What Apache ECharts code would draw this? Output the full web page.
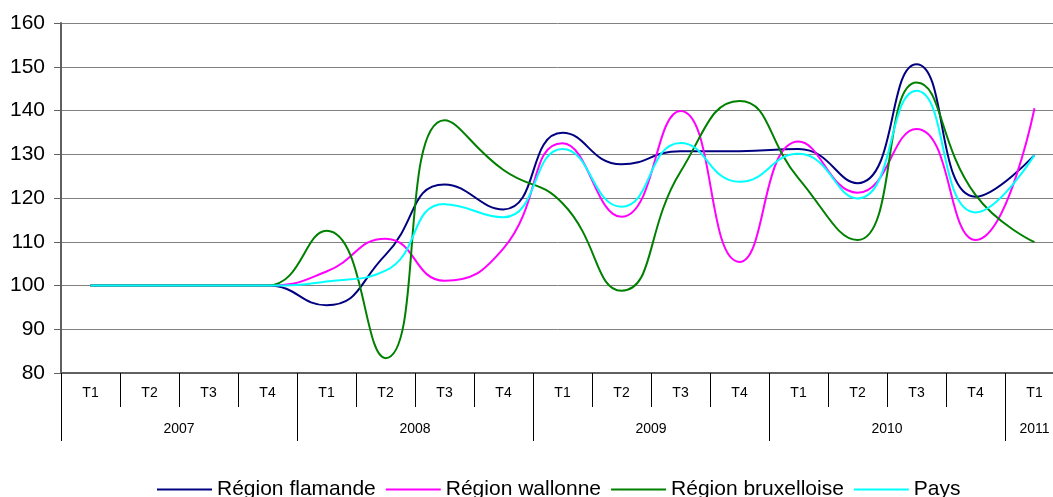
<!DOCTYPE html>
<html>
<head>
<meta charset="utf-8">
<title>Indices régionaux</title>
<script src="https://cdn.jsdelivr.net/npm/echarts@6/dist/echarts.min.js"></script>
<style>
  html, body { margin: 0; padding: 0; background: #fff; }
  #chart { width: 1053px; height: 497px; }
</style>
</head>
<body>
<div id="chart"></div>
<script>
// trimestres et années
const quarters = ['T1', 'T2', 'T3', 'T4', 'T1', 'T2', 'T3', 'T4', 'T1', 'T2', 'T3', 'T4', 'T1', 'T2', 'T3', 'T4', 'T1']
const years = ['2007', '2007', '2007', '2007', '2008', '2008', '2008', '2008', '2009', '2009', '2009', '2009', '2010', '2010', '2010', '2010', '2011']

// séries (indice 100 = T1 2007)
const flamande = [100, 100, 100, 100, 95.5, 107, 123.1, 117.4, 134.9, 127.7, 130.7, 130.7, 131.2, 123.4, 150.6, 120.3, 129.8]
const wallonne = [100, 100, 100, 100, 103.2, 110.7, 101.1, 108.5, 132.5, 115.7, 139.9, 105.4, 132.9, 121.2, 135.8, 110.4, 140.5]
const bruxelloise = [100, 100, 100, 100, 112.5, 83.4, 137.8, 126.4, 118.8, 98.8, 126, 142.2, 124.5, 110.4, 146.4, 120.7, 109.9]
const pays = [100, 100, 100, 100, 100.9, 103.4, 118.6, 115.6, 131.2, 118, 132.6, 123.7, 130.1, 119.9, 144.5, 116.7, 129.8]

const yTicks = { min: 80, max: 160, interval: 10 }

const myChart = echarts.init(document.getElementById('chart'))

const mkLine = (name, data, color) => {
  return {
    name: name,
    type: 'line',
    data: data,
    smooth: 0.5,
    symbol: 'none',
    lineStyle: { color: color, width: 2 },
    itemStyle: { color: color }
  }
}

const option = {
  animation: false,
  grid: { left: 61, top: 23, width: 1003, height: 350, outerBoundsMode: 'none' },
  legend: {
    left: 152,
    top: 474,
    icon: 'rect',
    itemWidth: 55,
    itemHeight: 2,
    itemGap: 10,
    textStyle: { fontSize: 21, color: '#000', fontFamily: 'Liberation Sans, Arial, sans-serif' }
  },
  xAxis: [
    {
      type: 'category',
      position: 'bottom',
      data: quarters,
      boundaryGap: true,
      axisLine: { lineStyle: { color: '#606060', width: 2 } },
      axisTick: { show: true, length: 34, interval: 0, lineStyle: { color: '#000', width: 1 } },
      axisLabel: { interval: 0, margin: 13, fontSize: 14, color: '#000', fontFamily: 'Liberation Sans, Arial, sans-serif' }
    },
    {
      type: 'category',
      position: 'bottom',
      data: quarters,
      boundaryGap: true,
      axisLine: { show: false },
      axisTick: {
        show: true,
        length: 68,
        interval: (i) => i % 4 === 0,
        lineStyle: { color: '#000', width: 1 }
      },
      axisLabel: {
        margin: 49,
        fontSize: 14,
        color: '#000',
        fontFamily: 'Liberation Sans, Arial, sans-serif',
        interval: (i) => i % 4 === 1 || i === years.length - 1,
        formatter: (v, i) => (i === years.length - 1 ? years[i] : '{y|' + years[i] + '}'),
        rich: { y: { padding: [0, 0, 0, 59], fontSize: 14, color: '#000' } }
      }
    }
  ],
  yAxis: {
    type: 'value',
    min: yTicks.min,
    max: yTicks.max,
    interval: yTicks.interval,
    axisLine: { show: true, lineStyle: { color: '#606060', width: 2 } },
    axisTick: { show: true, length: 7, lineStyle: { color: '#606060' } },
    axisLabel: { margin: 16, fontSize: 21, color: '#000', fontFamily: 'Liberation Sans, Arial, sans-serif' },
    splitLine: { lineStyle: { color: '#808080', width: 1 } }
  },
  series: [
    mkLine('Région flamande', flamande, '#000080'),
    mkLine('Région wallonne', wallonne, '#FF00FF'),
    mkLine('Région bruxelloise', bruxelloise, '#008000'),
    mkLine('Pays', pays, '#00FFFF')
  ]
}
myChart.setOption(option)
</script>
</body>
</html>
